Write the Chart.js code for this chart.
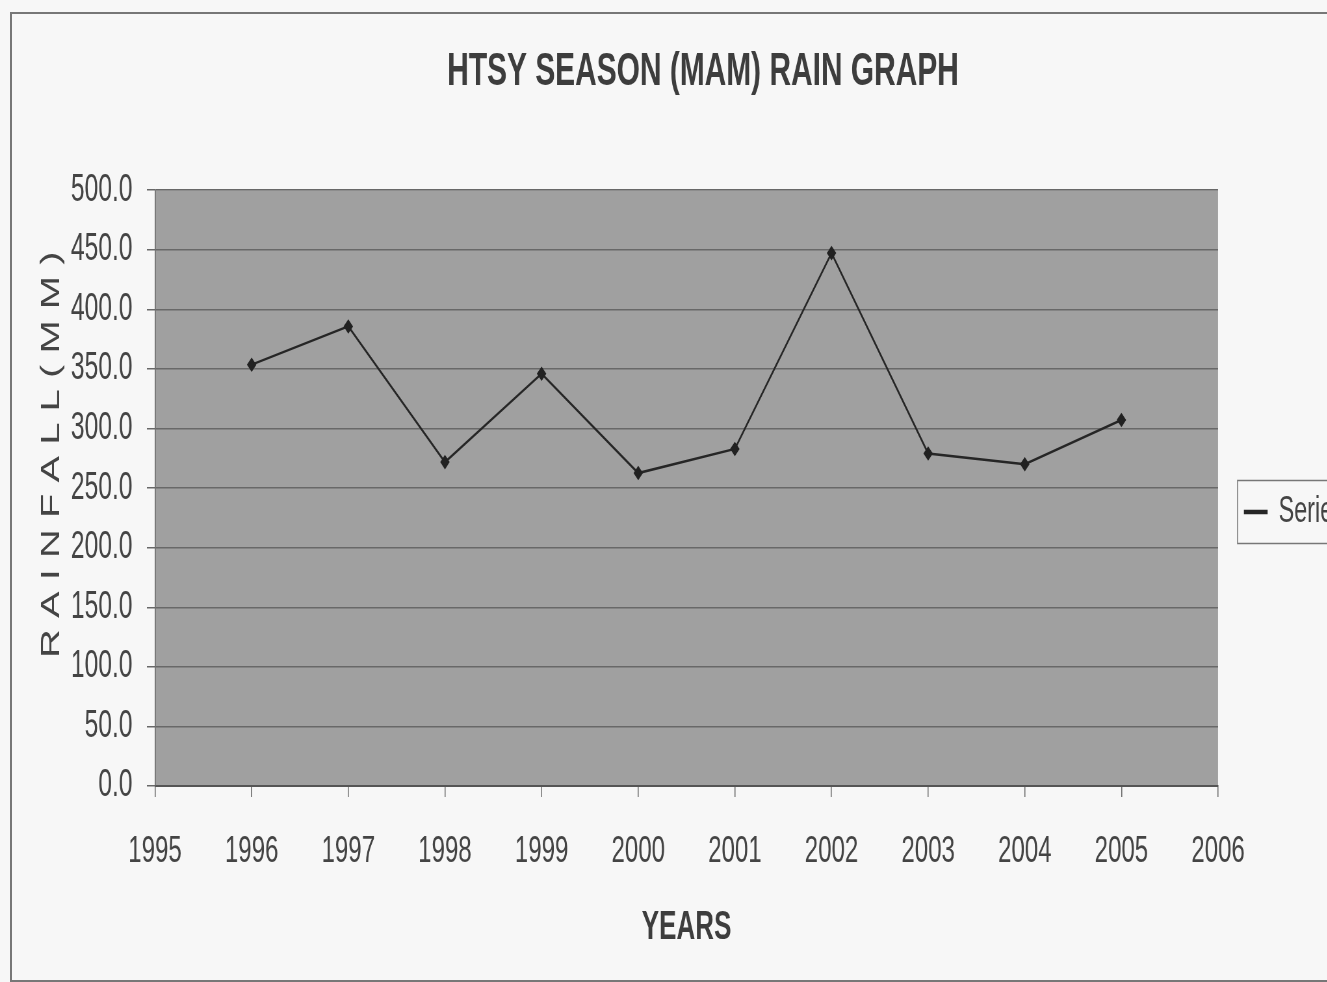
<!DOCTYPE html>
<html>
<head>
<meta charset="utf-8">
<title>HTSY SEASON (MAM) RAIN GRAPH</title>
<script src="https://cdn.jsdelivr.net/npm/chart.js@4.4.1/dist/chart.umd.min.js"></script>
<style>
  html, body { margin: 0; padding: 0; overflow: hidden; background: #f7f7f7; }
  #frame { position: absolute; left: 10px; top: 12px; width: 1400px; height: 966px;
           border: 2px solid #777; border-right: none; }
  /* the scanned chart is squeezed sideways, so draw wide and squeeze it back */
  #wrap { position: absolute; left: 0; top: 0; width: 2163px; height: 982px;
          transform: scaleX(0.65); transform-origin: 0 0; }
</style>
</head>
<body>
<div id="frame"></div>
<div id="wrap"><canvas id="rainChart"></canvas></div>
<script>
// MAM season rainfall
const years = [1996, 1997, 1998, 1999, 2000, 2001, 2002, 2003, 2004, 2005];
const rainfall = [353.6, 385.7, 271.8, 346.0, 262.6, 282.9, 447.2, 279.1, 270.1, 307.2];
const yearMin = 1995;
const yearMax = 2006;
const rainMin = 0;
const rainMax = 500;
const rainStep = 50;

const points = years.map((y, i) => ({ x: y, y: rainfall[i] }));

const FONT = '"Liberation Sans", Arial, sans-serif';
const textColor = '#444';

// grey plot background
const plotBackground = {
    id: 'plotBackground',
    beforeDraw(chart) {
        const { ctx, chartArea } = chart;
        ctx.save();
        ctx.fillStyle = '#a0a0a0';
        ctx.fillRect(chartArea.left, chartArea.top, chartArea.width, chartArea.height);
        ctx.restore();
    }
};

// box round the legend entry
const legendBox = {
    id: 'legendBox',
    afterDraw(chart) {
        const hb = chart.legend.legendHitBoxes[0];
        if (!hb) return;
        const ctx = chart.ctx;
        const cy = hb.top + hb.height / 2;
        ctx.save();
        ctx.strokeStyle = '#777';
        ctx.lineWidth = 1.5;
        ctx.strokeRect(hb.left - 11, cy - 31.5, 400, 63);
        ctx.restore();
    }
};

new Chart(document.getElementById('rainChart'), {
    type: 'line',
    data: {
        datasets: [{
            label: 'Series1',
            data: points,
            borderColor: '#262626',
            backgroundColor: '#262626',
            borderWidth: 2.5,
            pointStyle: 'rectRot',
            pointRadius: 5.5,
            pointBackgroundColor: '#222',
            pointBorderColor: '#222',
            tension: 0
        }]
    },
    options: {
        responsive: true,
        maintainAspectRatio: false,
        animation: false,
        layout: { padding: { left: 64, right: 64, top: 0, bottom: 0 } },
        plugins: {
            title: {
                display: true,
                text: 'HTSY SEASON (MAM) RAIN GRAPH',
                color: '#3d3d3d',
                font: { family: FONT, size: 46, weight: 'bold' },
                padding: { top: 45, bottom: 90 }
            },
            legend: {
                position: 'right',
                title: { display: true, text: ' ', font: { size: 10 }, padding: 15 },
                labels: {
                    color: textColor,
                    font: { family: FONT, size: 36 },
                    boxWidth: 34,
                    boxHeight: 2,
                    padding: 41
                }
            },
            tooltip: { enabled: false }
        },
        scales: {
            x: {
                type: 'linear',
                min: yearMin,
                max: yearMax,
                afterFit(scale) { scale.height = 196; },
                grid: { drawOnChartArea: false, drawTicks: true, tickLength: 11, color: '#666', lineWidth: 1.5 },
                border: { display: true, color: '#555', width: 2 },
                ticks: {
                    stepSize: 1,
                    color: textColor,
                    padding: 33,
                    font: { family: FONT, size: 37 },
                    callback: v => String(v)
                },
                title: {
                    display: true,
                    text: 'YEARS',
                    color: '#3d3d3d',
                    font: { family: FONT, size: 40, weight: 'bold' },
                    padding: { top: 0, bottom: 30 }
                }
            },
            y: {
                min: rainMin,
                max: rainMax,
                afterFit(scale) { scale.width = 174.5; },
                grid: { color: '#686868', lineWidth: 1.5, tickLength: 12.5 },
                border: { display: true, color: '#666', width: 1.5 },
                ticks: {
                    stepSize: rainStep,
                    color: textColor,
                    padding: 22,
                    font: { family: FONT, size: 38 },
                    callback: v => v.toFixed(1)
                },
                title: {
                    display: true,
                    text: '      R A I N F A L L ( M M )',
                    color: textColor,
                    font: { family: FONT, size: 40 },
                    padding: { top: -8, bottom: 0 }
                }
            }
        }
    },
    plugins: [plotBackground, legendBox]
});
</script>
</body>
</html>
